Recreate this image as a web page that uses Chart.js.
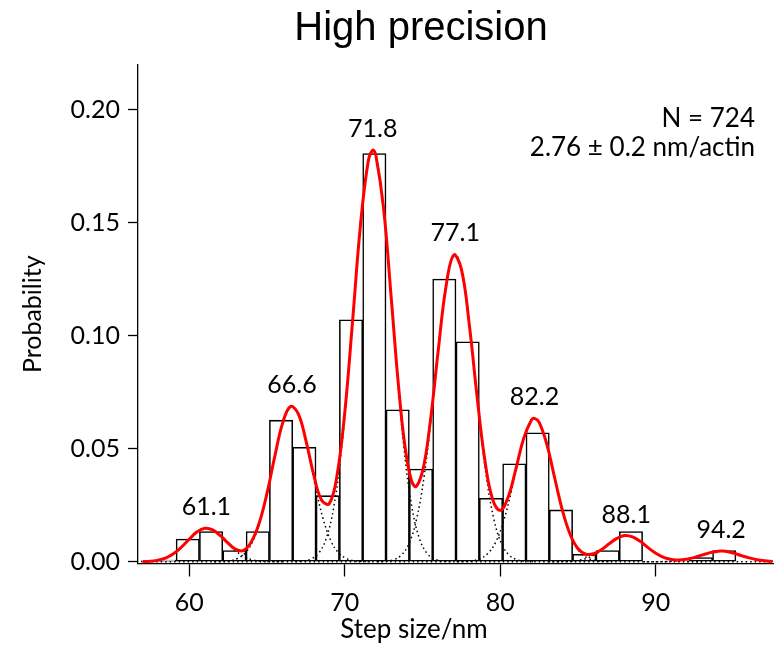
<!DOCTYPE html>
<html>
<head>
<meta charset="utf-8">
<title>High precision</title>
<script src="https://cdn.jsdelivr.net/npm/chart.js@4.4.1/dist/chart.umd.min.js"></script>
<style>
  html, body { margin: 0; padding: 0; background: #fff; }
  #wrap { width: 774px; height: 645px; }
  canvas { display: block; }
</style>
</head>
<body>
<div id="wrap"><canvas id="chart" width="774" height="645"></canvas></div>
<script>
/* ---------- data ---------- */

// histogram: bin centres (nm) and probability per bin
const HIST_X = [58.4, 59.9, 61.4, 62.9, 64.4, 65.9, 67.4, 68.9, 70.4, 71.9, 73.4, 74.9, 76.4,
  77.9, 79.4, 80.9, 82.4, 83.9, 85.4, 86.9, 88.4, 89.9, 91.4, 92.9, 94.4, 95.9];
const HIST_Y = [0.0007, 0.0100, 0.0133, 0.0049, 0.0133, 0.0626, 0.0506, 0.0292, 0.1070, 0.1805,
  0.0672, 0.0410, 0.1250, 0.0973, 0.0280, 0.0433, 0.0570, 0.0229, 0.0033, 0.0049, 0.0133,
  0, 0, 0.0018, 0.0049, 0];

// red fitted curve (sum of peaks)
const FIT_X = [57.0, 57.5, 58.0, 58.5, 59.0, 59.5, 60.0, 60.5, 61.0, 61.5, 62.0, 62.5, 63.0, 63.5,
  64.0, 64.5, 65.0, 65.5, 66.0, 66.5, 67.0, 67.5, 68.0, 68.5, 69.0, 69.5, 70.0, 70.5, 71.0, 71.5,
  71.8, 72.0, 72.5, 73.0, 73.5, 74.0, 74.5, 75.0, 75.5, 76.0, 76.5, 77.0, 77.5, 78.0, 78.5, 79.0,
  79.5, 80.0, 80.5, 81.0, 81.5, 82.0, 82.2, 82.5, 83.0, 83.5, 84.0, 84.5, 85.0, 85.5, 86.0, 86.5,
  87.0, 87.5, 88.0, 88.5, 89.0, 89.5, 90.0, 90.5, 91.0, 91.5, 92.0, 92.5, 93.0, 93.5, 94.0, 94.2,
  94.5, 95.0, 95.5, 96.0, 96.5, 97.0, 97.5];
const FIT_Y = [0.0001, 0.0002, 0.0007, 0.0017, 0.0036, 0.0065, 0.0100, 0.0132, 0.0148, 0.0141,
  0.0115, 0.0082, 0.0054, 0.0050, 0.0089, 0.0172, 0.0304, 0.0467, 0.0613, 0.0686,
  0.0655, 0.0536, 0.0385, 0.0273, 0.0257, 0.0382, 0.0662, 0.1065, 0.1484, 0.1769,
  0.1820,
  0.1797, 0.1558, 0.1154, 0.0743, 0.0450, 0.0333, 0.0401, 0.0622, 0.0930, 0.1214, 0.1356,
  0.1293, 0.1052, 0.0734, 0.0452, 0.0277, 0.0227, 0.0285, 0.0410, 0.0545, 0.0627,
  0.0634,
  0.0616, 0.0517, 0.0369, 0.0225, 0.0119, 0.0057, 0.0033, 0.0035, 0.0053, 0.0079, 0.0103,
  0.0116, 0.0110, 0.0090, 0.0062, 0.0037, 0.0019, 0.0010, 0.0007, 0.0011, 0.0019, 0.0030,
  0.0040, 0.0046,
  0.0047,
  0.0046, 0.0038, 0.0027, 0.0017, 0.0009, 0.0004, 0.0001];

// peak centres (nm) and heights of the single peaks
const PEAK_X = [61.1, 66.6, 71.8, 77.1, 82.2, 88.1, 94.2];
const PEAK_Y = [0.0148, 0.0688, 0.182, 0.136, 0.0634, 0.0116, 0.0047];

// dotted single peaks, sampled at these offsets from each centre
const COMP_DX = [-5, -4.5, -4, -3.5, -3, -2.5, -2, -1.5, -1, -0.5, 0, 0.5, 1, 1.5, 2, 2.5, 3, 3.5, 4, 4.5, 5];
const COMP_Y = [
  [0, 0, 0.0001, 0.0003, 0.0008, 0.0020, 0.0041, 0.0072, 0.0107, 0.0137, 0.0148, 0.0137, 0.0107, 0.0072, 0.0041, 0.0020, 0.0008, 0.0003, 0.0001, 0, 0],
  [0, 0.0001, 0.0004, 0.0014, 0.0039, 0.0093, 0.0191, 0.0335, 0.0500, 0.0635, 0.0688, 0.0635, 0.0500, 0.0335, 0.0191, 0.0093, 0.0039, 0.0014, 0.0004, 0.0001, 0],
  [0.0001, 0.0003, 0.0011, 0.0036, 0.0102, 0.0246, 0.0506, 0.0886, 0.1322, 0.1680, 0.1820, 0.1680, 0.1322, 0.0886, 0.0506, 0.0246, 0.0102, 0.0036, 0.0011, 0.0003, 0.0001],
  [0, 0.0002, 0.0008, 0.0027, 0.0076, 0.0184, 0.0378, 0.0662, 0.0988, 0.1255, 0.1360, 0.1255, 0.0988, 0.0662, 0.0378, 0.0184, 0.0076, 0.0027, 0.0008, 0.0002, 0],
  [0, 0.0001, 0.0004, 0.0013, 0.0036, 0.0086, 0.0176, 0.0309, 0.0460, 0.0585, 0.0634, 0.0585, 0.0460, 0.0309, 0.0176, 0.0086, 0.0036, 0.0013, 0.0004, 0.0001, 0],
  [0, 0, 0.0001, 0.0002, 0.0007, 0.0016, 0.0032, 0.0056, 0.0084, 0.0107, 0.0116, 0.0107, 0.0084, 0.0056, 0.0032, 0.0016, 0.0007, 0.0002, 0.0001, 0, 0],
  [0, 0, 0, 0.0001, 0.0003, 0.0006, 0.0013, 0.0023, 0.0034, 0.0043, 0.0047, 0.0043, 0.0034, 0.0023, 0.0013, 0.0006, 0.0003, 0.0001, 0, 0, 0]
];

// zero line of the single peaks
const BASE_X = [57.0, 97.5];
const BASE_Y = [0, 0];

// axes
const X_MIN = 56.7, X_MAX = 97.6, X_STEP = 10;
const Y_MIN = -0.0008, Y_MAX = 0.2197, Y_STEP = 0.05;

const TITLE = "High precision";
const X_TITLE = "Step size/nm";
const Y_TITLE = "Probability";
const NOTE = ["N = 724", "2.76 \u00b1 0.2 nm/actin"];

/* ---------- build ---------- */
const pts = (xs, ys) => xs.map((x, i) => ({ x: x, y: ys[i] }));

const DOT = { color: "#000", width: 1.5, dash: [1.5, 3] };

const dotted = COMP_Y.map((ys, k) => ({
  type: "line",
  data: COMP_DX.map((dx, i) => ({ x: PEAK_X[k] + dx, y: ys[i] })),
  borderColor: DOT.color,
  borderWidth: DOT.width,
  borderDash: DOT.dash,
  pointRadius: 0,
  tension: 0.4,
  order: 1,
}));

// text: title, x-axis title, peak labels, N note
const textPlugin = {
  id: "texts",
  afterDatasetsDraw(chart) {
    const { ctx, scales } = chart;
    ctx.save();
    ctx.fillStyle = "#000";

    ctx.font = "40px 'Liberation Sans', Arial, sans-serif";
    ctx.textAlign = "center";
    ctx.textBaseline = "alphabetic";
    ctx.fillText(TITLE, 421, 40);

    ctx.font = "26px Lato, sans-serif";
    ctx.textBaseline = "middle";
    ctx.fillText(X_TITLE, 414, 630);

    ctx.font = "25px Lato, sans-serif";
    PEAK_X.forEach((x, i) => {
      const px = scales.x.getPixelForValue(x);
      const py = scales.y.getPixelForValue(PEAK_Y[i]);
      ctx.fillText(x.toFixed(1), px, py - 21);
    });

    ctx.font = "26px Lato, sans-serif";
    ctx.textAlign = "right";
    ctx.textBaseline = "alphabetic";
    ctx.fillText(NOTE[0], 755, 127);
    ctx.fillText(NOTE[1], 755, 156);
    ctx.restore();
  },
};

Chart.defaults.font.family = "Lato, sans-serif";
Chart.defaults.color = "#000";

new Chart(document.getElementById("chart"), {
  type: "bar",
  data: {
    datasets: [
      {
        type: "line",
        data: pts(FIT_X, FIT_Y),
        borderColor: "#ff0000",
        borderWidth: 3,
        pointRadius: 0,
        tension: 0.4,
        order: 0,
      },
      ...dotted,
      {
        type: "line",
        data: pts(BASE_X, BASE_Y),
        borderColor: DOT.color,
        borderWidth: DOT.width,
        borderDash: DOT.dash,
        pointRadius: 0,
        order: 1,
      },
      {
        type: "bar",
        data: pts(HIST_X, HIST_Y),
        backgroundColor: "rgba(255,255,255,0)",
        borderColor: "#000",
        borderWidth: 0.9,
        borderSkipped: false,
        barPercentage: 1,
        categoryPercentage: 1,
        order: 2,
      },
    ],
  },
  options: {
    responsive: false,
    animation: false,
    devicePixelRatio: 1,
    layout: { padding: { top: 65, left: 0, right: 0, bottom: 0 } },
    plugins: { legend: { display: false }, tooltip: { enabled: false } },
    scales: {
      x: {
        type: "linear",
        min: X_MIN,
        max: X_MAX,
        offset: false,
        afterFit: (s) => { s.height = 81.5; },
        grid: { offset: false, drawOnChartArea: false, drawTicks: true, tickLength: 13, tickColor: "#000", tickWidth: 1.3 },
        border: { color: "#000", width: 1.3 },
        ticks: {
          stepSize: X_STEP,
          includeBounds: false,
          padding: 11,
          font: { size: 25 },
          color: "#000",
          callback: (v) => String(v),
        },
      },
      y: {
        type: "linear",
        min: Y_MIN,
        max: Y_MAX,
        afterFit: (s) => { s.width = 138; },
        grid: { drawOnChartArea: false, drawTicks: true, tickLength: 10, tickColor: "#000", tickWidth: 1.3 },
        border: { color: "#000", width: 1.3 },
        ticks: {
          stepSize: Y_STEP,
          includeBounds: false,
          padding: 8,
          font: { size: 25 },
          color: "#000",
          callback: (v) => Number(v).toFixed(2),
        },
        title: {
          display: true,
          text: Y_TITLE,
          font: { size: 25 },
          color: "#000",
          padding: { top: 18, bottom: 0 },
        },
      },
    },
  },
  plugins: [textPlugin],
});
</script>
</body>
</html>
